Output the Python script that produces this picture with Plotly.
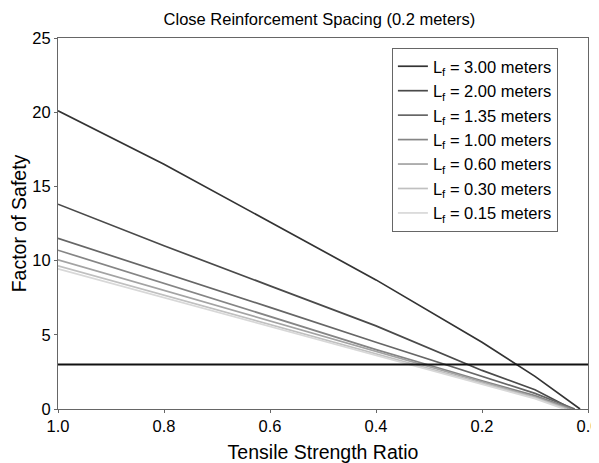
import plotly.graph_objects as go

# Tensile strength ratio breakpoints per series
ratio_common = [1.0, 0.8, 0.6, 0.4, 0.2, 0.1]

lf_labels = ["3.00", "2.00", "1.35", "1.00", "0.60", "0.30", "0.15"]
end_ratio = [0.015, 0.03, 0.025, 0.03, 0.035, 0.04, 0.045]
fs_3_00 = [20.1, 16.5, 12.6, 8.7, 4.5, 2.2, 0.0]
fs_2_00 = [13.8, 11.0, 8.3, 5.6, 2.6, 1.3, 0.0]
fs_1_35 = [11.5, 9.2, 6.85, 4.5, 2.2, 1.05, 0.0]
fs_1_00 = [10.7, 8.45, 6.2, 4.0, 1.9, 0.9, 0.0]
fs_0_60 = [10.05, 7.99, 5.93, 3.87, 1.8, 0.8, 0.0]
fs_0_30 = [9.65, 7.67, 5.7, 3.7, 1.7, 0.75, 0.0]
fs_0_15 = [9.45, 7.5, 5.57, 3.6, 1.65, 0.7, 0.0]
series = [fs_3_00, fs_2_00, fs_1_35, fs_1_00, fs_0_60, fs_0_30, fs_0_15]
colors = ["#333333", "#4a4a4a", "#666666", "#858585", "#a3a3a3", "#c0c0c0", "#d8d8d8"]

threshold_x = [1.0, 0.0]
threshold_y = [3.0, 3.0]

fig = go.Figure()
for lab, end, ys, col in zip(lf_labels, end_ratio, series, colors):
    fig.add_trace(go.Scatter(
        x=ratio_common + [end], y=ys, mode="lines",
        line=dict(color=col, width=1.7),
        name=f"L<sub>f</sub> = {lab} meters",
    ))
fig.add_trace(go.Scatter(x=threshold_x, y=threshold_y, mode="lines",
                         line=dict(color="#111111", width=2.2), showlegend=False))

font = "Arial, Liberation Sans, sans-serif"
fig.update_layout(
    width=599, height=455,
    margin=dict(l=50, r=19, t=30, b=54),
    paper_bgcolor="white", plot_bgcolor="white",
    font=dict(family=font, color="black"),
    title=dict(text="Close Reinforcement Spacing (0.2 meters)", x=0.52, xanchor="center",
               y=0.976, yanchor="middle", font=dict(size=16.5, family=font)),
    xaxis=dict(range=[1.0, 0.0], autorange=False, dtick=0.2, tickformat=".1f",
               ticks="outside", ticklen=3, tickcolor="#666", showgrid=False, zeroline=False,
               showline=True, linecolor="#666", linewidth=1, mirror=True,
               tickfont=dict(size=16.5), automargin=False, ticklabelstandoff=-1,
               title=dict(text="Tensile Strength Ratio", font=dict(size=19.5), standoff=14)),
    yaxis=dict(range=[0, 25], dtick=5, ticks="outside", ticklen=3, tickcolor="#666",
               showgrid=False, zeroline=False, showline=True, linecolor="#666",
               linewidth=1, mirror=True, tickfont=dict(size=16.5), automargin=False,
               title=dict(text="Factor of Safety", font=dict(size=19.5), standoff=8)),
    legend=dict(x=0.63, y=0.973, xanchor="left", yanchor="top",
                bordercolor="#666", borderwidth=1, bgcolor="white",
                font=dict(size=16.5), tracegroupgap=0, itemwidth=30),
)
fig.write_html("out.html")
